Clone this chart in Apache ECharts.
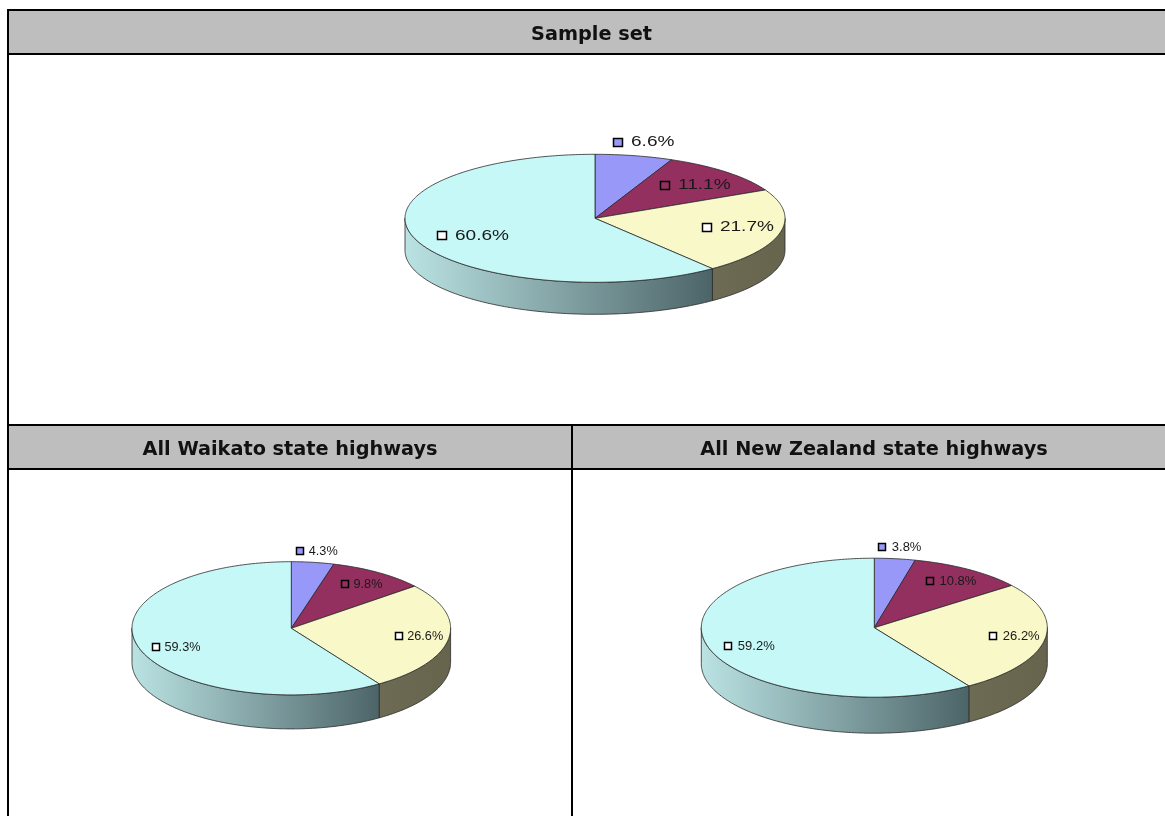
<!DOCTYPE html>
<html>
<head>
<meta charset="utf-8">
<style>html,body{margin:0;padding:0;background:#fff}#c{width:1165px;height:816px}</style>
<script src="https://cdn.jsdelivr.net/npm/echarts@6/dist/echarts.min.js"></script>
</head>
<body>
<div id="c"></div>
<script>
// ---- data ----
const sampleSet = [6.6, 11.1, 21.7, 60.6];
const waikato = [4.3, 9.8, 26.6, 59.3];
const newZealand = [3.8, 10.8, 26.2, 59.2];
const panelTitles = ['Sample set', 'All Waikato state highways', 'All New Zealand state highways'];

// ---- styles / layout ----
const topColors = ['#9898F8', '#933060', '#F8F8C8', '#C6F8F8'];
const wallColors = [
  ['#8080c8', '#5a5a90'],
  ['#7a2850', '#501a34'],
  ['#6e6b55', '#67644e'],
  ['#BBE3E3', '#4C6468']
];
const keyFill = ['#9898F8', 'transparent', '#ffffff', '#ffffff'];
const layouts = [
  {values: sampleSet, cx: 595, cy: 218.3, rx: 190, ry: 64, depth: 32, font: 14, sx: 1.36, keyH: 9, keyW: 10, textGap: 13,
   factors: [[0.588, 1.218], [0.533, 0.72], [0.604, 0.615], [0.852, 0.846]]},
  {values: waikato, cx: 291.3, cy: 628.3, rx: 159.3, ry: 66.6, depth: 34, font: 12.7, sx: 1, keyH: 8, keyW: 8, textGap: 8.5,
   factors: [[0.419, 1.171], [0.617, 0.80], [0.682, 0.739], [0.887, 0.99]]},
  {values: newZealand, cx: 874.3, cy: 627.7, rx: 173, ry: 69.5, depth: 36, font: 13, sx: 1, keyH: 8, keyW: 8, textGap: 9.5,
   factors: [[0.388, 1.165], [0.589, 0.797], [0.698, 0.707], [0.880, 0.924]]}
];

function pt(l, share, dy) {
  const a = share * Math.PI * 2;
  return [l.cx + l.rx * Math.sin(a), l.cy - l.ry * Math.cos(a) + (dy || 0)];
}
function arc(l, s0, s1, dy) {
  const n = Math.max(2, Math.ceil((s1 - s0) * 360));
  const out = [];
  for (let i = 0; i <= n; i++) out.push(pt(l, s0 + (s1 - s0) * i / n, dy));
  return out;
}

function makeRender(l) {
  return function (params, api) {
    const i = api.value(0);
    const total = l.values.reduce((a, b) => a + b, 0);
    let start = 0;
    for (let k = 0; k < i; k++) start += l.values[k];
    const s0 = start / total, s1 = (start + api.value(1)) / total;
    const children = [];
    // visible outer wall: the front half of the ellipse
    const w0 = Math.max(s0, 0.25), w1 = Math.min(s1, 0.75);
    if (w1 > w0) {
      const top = arc(l, w0, w1, 0), bottom = arc(l, w0, w1, l.depth).reverse();
      children.push({
        type: 'polygon',
        shape: {points: top.concat(bottom)},
        style: {
          fill: new echarts.graphic.LinearGradient(0, 0, 1, 0, [
            {offset: 0, color: wallColors[i][0]},
            {offset: 1, color: wallColors[i][1]}
          ]),
          stroke: '#2a2a2a', lineWidth: 0.8
        }
      });
    }
    // top face
    children.push({
      type: 'polygon',
      shape: {points: [[l.cx, l.cy]].concat(arc(l, s0, s1, 0))},
      style: {fill: topColors[i], stroke: '#2a2a2a', lineWidth: 0.8}
    });
    // key + percentage label, placed relative to the slice's mid angle
    const mid = (s0 + s1) / 2;
    const f = l.factors[i];
    const kx = l.cx + f[0] * l.rx * Math.sin(mid * Math.PI * 2);
    const ky = l.cy - f[1] * l.ry * Math.cos(mid * Math.PI * 2);
    children.push({
      type: 'rect',
      shape: {x: Math.round(kx - l.keyW / 2) + 0.5, y: Math.round(ky - l.keyH / 2) + 0.5, width: l.keyW - 1, height: l.keyH - 1},
      style: {fill: keyFill[i], stroke: '#000', lineWidth: 1.5}
    });
    children.push({
      type: 'text',
      x: kx + l.textGap,
      y: ky + 0.5,
      scaleX: l.sx,
      style: {text: api.value(1).toFixed(1) + '%', fill: '#1a1a1a', font: l.font + 'px "Liberation Sans", Arial, sans-serif', align: 'left', verticalAlign: 'middle'}
    });
    return {type: 'group', children};
  };
}

const titleFont = {fontFamily: '"DejaVu Sans", sans-serif', fontWeight: 'bold', fontSize: 19.3, color: '#111'};
const band = (x, y, w, h) => ({type: 'rect', silent: true, z: -1, shape: {x, y, width: w, height: h}, style: {fill: '#BEBEBE'}});
const line = (x, y, w, h) => ({type: 'rect', silent: true, z: 5, shape: {x, y, width: w, height: h}, style: {fill: '#000'}});

const option = {
  animation: false,
  backgroundColor: '#fff',
  title: [
    {text: panelTitles[0], left: 591.5, top: 25, padding: 0, textAlign: 'center', textStyle: titleFont},
    {text: panelTitles[1], left: 290, top: 440, padding: 0, textAlign: 'center', textStyle: titleFont},
    {text: panelTitles[2], left: 874, top: 440, padding: 0, textAlign: 'center', textStyle: titleFont}
  ],
  graphic: [
    band(9, 11, 1156, 42),
    band(9, 426, 1156, 42),
    line(7, 9, 1158, 2),
    line(7, 53, 1158, 2),
    line(7, 424, 1158, 2),
    line(7, 468, 1158, 2),
    line(7, 9, 2, 807),
    line(571, 424, 2, 392)
  ],
  series: layouts.map(l => ({
    type: 'custom',
    coordinateSystem: 'none',
    silent: true,
    renderItem: makeRender(l),
    encode: {value: [1]},
    data: l.values.map((v, i) => [i, v])
  }))
};
echarts.init(document.getElementById('c')).setOption(option);
</script>
</body>
</html>
